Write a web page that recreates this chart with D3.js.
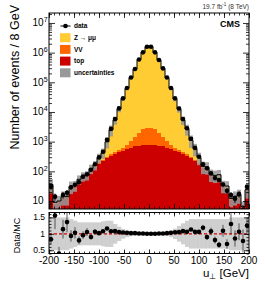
<!DOCTYPE html>
<html>
<head>
<meta charset="utf-8">
<script src="https://cdn.jsdelivr.net/npm/d3@7"></script>
<style>
body { margin: 0; background: #fff; }
svg { display: block; font-family: "Liberation Sans", Arial, Helvetica, sans-serif; }
</style>
</head>
<body>
<svg id="chart" width="266" height="282"></svg>
<script>
// binning of u_perp, 8 GeV bins from -200 to 200
var binLow = -200;
var binHigh = 200;
var binWidth = 8;

// observed events per bin
var dataCounts = [30, 14, 4, 16, 19, 29, 35, 43, 66, 79, 112, 174, 295, 457, 1150, 2690, 5750, 13200, 28840, 64570,
    144500, 281800, 588800, 1023000, 1585000, 1585000, 1023000, 562000, 295000, 144500, 64570, 28840, 13180, 5750, 2820,
    1260, 617, 309, 174, 126, 85, 59, 51, 36, 22, 16, 12, 17, 5, 30];

// simulated backgrounds / signal per bin
var topCounts = [34, 8, 9, 12, 13, 24, 30, 37, 57, 70, 98, 132, 180, 225, 275, 330, 380, 436, 500, 560,
    630, 690, 740, 775, 790, 790, 775, 740, 690, 630, 560, 500, 436, 380, 330,
    275, 225, 180, 132, 98, 76, 55, 47, 30, 20, 11, 11, 12, 6, 22];
var vvCounts = [0.5, 0.2, 0.2, 0.3, 0.3, 0.5, 0.6, 0.8, 1, 1.2, 2, 3, 5, 8, 20, 40, 60, 90, 130, 230,
    420, 760, 1250, 1800, 2200, 2200, 1800, 1250, 760, 420, 230, 130, 90, 60, 40,
    20, 8, 5, 3, 2, 1.2, 1, 0.8, 0.6, 0.5, 0.3, 0.3, 0.3, 0.2, 0.5];
var zmmCounts = [1.5, 0.8, 0.8, 1.7, 0.7, 6.5, 3.4, 16, 11, 3.8, 24, 29, 104, 190, 695, 2120, 4880, 12040, 27100, 61900,
    140650, 274850, 581010, 1010400, 1582000, 1582000, 1020400, 554400, 290650, 140650, 61900, 26840, 12020, 4880, 2290,
    820, 349, 107, 12, 40, 1.8, 17, 29, 2.4, 11.5, 1, 2.7, 3.7, 0.2, 1.5];

// relative uncertainty of the total simulation
var mcUncRel = [0.5, 0.5, 0.5, 0.5, 0.5, 0.45, 0.4, 0.35, 0.35, 0.35, 0.35, 0.35, 0.35, 0.38, 0.4, 0.4, 0.3, 0.22, 0.15, 0.1,
    0.07, 0.05, 0.05, 0.05, 0.05, 0.05, 0.05, 0.05, 0.05, 0.07, 0.1, 0.16, 0.24, 0.32, 0.4,
    0.45, 0.45, 0.45, 0.45, 0.45, 0.45, 0.45, 0.45, 0.45, 0.45, 0.5, 0.5, 0.5, 0.5, 0.5];

var xTicks = [-200, -150, -100, -50, 0, 50, 100, 150, 200];
var yDecades = [1, 2, 3, 4, 5, 6, 7];
var ratioTicks = [0.5, 1, 1.5];
var legendLabels = ["data", "Z \u2192 \u03bc\u03bc", "VV", "top", "uncertainties"];

var COLORS = { top: "#cc0000", vv: "#ff6600", zmm: "#ffcc33", unc: "#999999" };

var MAIN = { left: 49, right: 249, top: 13, bottom: 209 };
var RATIO = { top: 212.5, bottom: 253.5 };

var svg = d3.select("#chart");

var binEdges = d3.range(binLow, binHigh + 1, binWidth);
var bins = binEdges.slice(0, -1).map(function (lo, i) {
    return {
        lo: lo, hi: lo + binWidth, c: lo + binWidth / 2,
        top: topCounts[i], vv: vvCounts[i], zmm: zmmCounts[i],
        data: dataCounts[i], unc: mcUncRel[i],
        mc: topCounts[i] + vvCounts[i] + zmmCounts[i]
    };
});

var x = d3.scaleLinear().domain([binLow, binHigh]).range([MAIN.left, MAIN.right]);
var y = d3.scaleLog().domain([5.37, 2.17e7]).range([MAIN.bottom, MAIN.top]);
var r = d3.scaleLinear().domain([0.4, 1.65]).range([RATIO.bottom, RATIO.top]);
var yMin = y.domain()[0];

var defs = svg.append("defs");
defs.append("clipPath").attr("id", "clipMain").append("rect")
    .attr("x", MAIN.left).attr("y", MAIN.top)
    .attr("width", MAIN.right - MAIN.left).attr("height", MAIN.bottom - MAIN.top);
defs.append("clipPath").attr("id", "clipRatio").append("rect")
    .attr("x", MAIN.left).attr("y", RATIO.top)
    .attr("width", MAIN.right - MAIN.left).attr("height", RATIO.bottom - RATIO.top);

// ---- main panel ----
var gMain = svg.append("g").attr("clip-path", "url(#clipMain)");

var stack = d3.stack().keys(["top", "vv", "zmm"])(bins);
gMain.selectAll("g.layer").data(stack).enter().append("g")
    .attr("class", "layer")
    .attr("fill", function (d) { return COLORS[d.key]; })
    .selectAll("rect").data(function (d) { return d; }).enter().append("rect")
    .attr("shape-rendering", "crispEdges")
    .attr("x", function (d) { return x(d.data.lo); })
    .attr("width", function (d) { return x(d.data.hi) - x(d.data.lo) + 0.3; })
    .attr("y", function (d) { return y(Math.max(d[1], yMin)); })
    .attr("height", function (d) { return Math.max(0, y(Math.max(d[0], yMin)) - y(Math.max(d[1], yMin))); });

gMain.append("g").selectAll("rect").data(bins).enter().append("rect")
    .attr("fill", COLORS.unc).attr("fill-opacity", 0.85)
    .attr("x", function (d) { return x(d.lo); })
    .attr("width", function (d) { return x(d.hi) - x(d.lo); })
    .attr("y", function (d) { return y(d.mc * (1 + d.unc)); })
    .attr("height", function (d) { return y(Math.max(d.mc * (1 - d.unc), yMin)) - y(d.mc * (1 + d.unc)); });

var stepPts = bins.map(function (d) { return [d.lo, d.mc]; });
stepPts.push([binHigh, bins[bins.length - 1].mc]);
gMain.append("path")
    .attr("d", d3.line().curve(d3.curveStepAfter)
        .x(function (p) { return x(p[0]); })
        .y(function (p) { return y(p[1]); })(stepPts))
    .attr("fill", "none").attr("stroke", "#000").attr("stroke-width", 1);

var gData = gMain.append("g");
gData.selectAll("line").data(bins).enter().append("line")
    .attr("x1", function (d) { return x(d.c); }).attr("x2", function (d) { return x(d.c); })
    .attr("y1", function (d) { return y(d.data + Math.sqrt(d.data)); })
    .attr("y2", function (d) { return y(Math.max(d.data - Math.sqrt(d.data), 0.1)); })
    .attr("stroke", "#000").attr("stroke-width", 1);
gData.selectAll("circle").data(bins).enter().append("circle")
    .attr("cx", function (d) { return x(d.c); })
    .attr("cy", function (d) { return y(d.data); })
    .attr("r", 2.3).attr("fill", "#000");

// ---- ratio panel ----
var gRatio = svg.append("g").attr("clip-path", "url(#clipRatio)");
gRatio.append("g").selectAll("rect").data(bins).enter().append("rect")
    .attr("fill", "#c4c4c4").attr("fill-opacity", 0.8)
    .attr("x", function (d) { return x(d.lo); })
    .attr("width", function (d) { return x(d.hi) - x(d.lo) + 0.3; })
    .attr("y", function (d) { return r(1 + d.unc); })
    .attr("height", function (d) { return r(1 - d.unc) - r(1 + d.unc); });

gRatio.append("line")
    .attr("x1", MAIN.left).attr("x2", MAIN.right)
    .attr("y1", r(1)).attr("y2", r(1))
    .attr("stroke", "#cc0000").attr("stroke-width", 1.3).attr("stroke-dasharray", "3,2");

gRatio.append("g").selectAll("line").data(bins).enter().append("line")
    .attr("x1", function (d) { return x(d.c); }).attr("x2", function (d) { return x(d.c); })
    .attr("y1", function (d) { return r((d.data + Math.sqrt(d.data)) / d.mc); })
    .attr("y2", function (d) { return r((d.data - Math.sqrt(d.data)) / d.mc); })
    .attr("stroke", "#333").attr("stroke-width", 0.8);
gRatio.append("g").selectAll("circle").data(bins).enter().append("circle")
    .attr("cx", function (d) { return x(d.c); })
    .attr("cy", function (d) { return r(d.data / d.mc); })
    .attr("r", 2.3).attr("fill", "#000");

// ---- axes (ticks inside, ROOT style) ----
function drawAxis(axis, tx, ty) {
    var g = svg.append("g").attr("transform", "translate(" + tx + "," + ty + ")").call(axis);
    g.select(".domain").remove();
    g.selectAll("text").remove();
    g.selectAll("line").attr("stroke", "#000").attr("stroke-width", 0.8);
    return g;
}

var xMinor = d3.range(binLow, binHigh + 1, 10);
var yMinor = [];
yDecades.concat([0]).forEach(function (k) {
    for (var m = 2; m < 10; m++) {
        var v = m * Math.pow(10, k);
        if (v > y.domain()[0] && v < y.domain()[1]) yMinor.push(v);
    }
});
var yMajor = yDecades.map(function (k) { return Math.pow(10, k); });
var rMinor = d3.range(0.4, 1.651, 0.1);

// main panel
drawAxis(d3.axisBottom(x).tickValues(xTicks).tickSize(-5).tickFormat(""), 0, MAIN.bottom);
drawAxis(d3.axisBottom(x).tickValues(xMinor).tickSize(-2.5).tickFormat(""), 0, MAIN.bottom);
drawAxis(d3.axisTop(x).tickValues(xTicks).tickSize(-5).tickFormat(""), 0, MAIN.top);
drawAxis(d3.axisTop(x).tickValues(xMinor).tickSize(-2.5).tickFormat(""), 0, MAIN.top);
drawAxis(d3.axisLeft(y).tickValues(yMajor).tickSize(-6).tickFormat(""), MAIN.left, 0);
drawAxis(d3.axisLeft(y).tickValues(yMinor).tickSize(-3).tickFormat(""), MAIN.left, 0);
drawAxis(d3.axisRight(y).tickValues(yMajor).tickSize(-6).tickFormat(""), MAIN.right, 0);
drawAxis(d3.axisRight(y).tickValues(yMinor).tickSize(-3).tickFormat(""), MAIN.right, 0);

// ratio panel
drawAxis(d3.axisBottom(x).tickValues(xTicks).tickSize(-4).tickFormat(""), 0, RATIO.bottom);
drawAxis(d3.axisBottom(x).tickValues(xMinor).tickSize(-2).tickFormat(""), 0, RATIO.bottom);
drawAxis(d3.axisTop(x).tickValues(xTicks).tickSize(-4).tickFormat(""), 0, RATIO.top);
drawAxis(d3.axisTop(x).tickValues(xMinor).tickSize(-2).tickFormat(""), 0, RATIO.top);
drawAxis(d3.axisLeft(r).tickValues(ratioTicks).tickSize(-5).tickFormat(""), MAIN.left, 0);
drawAxis(d3.axisLeft(r).tickValues(rMinor).tickSize(-2.5).tickFormat(""), MAIN.left, 0);
drawAxis(d3.axisRight(r).tickValues(ratioTicks).tickSize(-5).tickFormat(""), MAIN.right, 0);
drawAxis(d3.axisRight(r).tickValues(rMinor).tickSize(-2.5).tickFormat(""), MAIN.right, 0);

// frames
svg.append("rect").attr("x", MAIN.left).attr("y", MAIN.top)
    .attr("width", MAIN.right - MAIN.left).attr("height", MAIN.bottom - MAIN.top)
    .attr("fill", "none").attr("stroke", "#000").attr("stroke-width", 1);
svg.append("rect").attr("x", MAIN.left).attr("y", RATIO.top)
    .attr("width", MAIN.right - MAIN.left).attr("height", RATIO.bottom - RATIO.top)
    .attr("fill", "none").attr("stroke", "#000").attr("stroke-width", 1);

// ---- labels ----
var yLab = svg.append("g").attr("font-size", "10px").attr("fill", "#000");
yDecades.forEach(function (k) {
    var ty = y(Math.pow(10, k));
    yLab.append("text").attr("x", 43.5).attr("y", ty + 3.5).attr("text-anchor", "end").text("10");
    if (k > 1) {
        yLab.append("text").attr("x", 43.8).attr("y", ty - 0.5).attr("font-size", "7px").text(k);
    }
});

svg.append("g").selectAll("text").data(ratioTicks).enter().append("text")
    .attr("x", 45).attr("y", function (d) { return r(d) + 3; })
    .attr("text-anchor", "end").attr("font-size", "8.5px")
    .text(function (d) { return d; });

svg.append("g").selectAll("text").data(xTicks).enter().append("text")
    .attr("x", function (d) { return x(d); }).attr("y", 264)
    .attr("text-anchor", "middle").attr("font-size", "10px")
    .text(function (d) { return d; });

svg.append("text")
    .attr("transform", "translate(18.5,5) rotate(-90)")
    .attr("text-anchor", "end").attr("font-size", "12.5px")
    .text("Number of events / 8 GeV");

svg.append("text")
    .attr("transform", "translate(19.5," + r(0.95) + ") rotate(-90)")
    .attr("text-anchor", "middle").attr("font-size", "9px")
    .text("Data/MC");

var xTitle = svg.append("text").attr("x", 249).attr("y", 277)
    .attr("text-anchor", "end").attr("font-size", "11.5px");
xTitle.append("tspan").text("u");
xTitle.append("tspan").attr("font-size", "8px").attr("dy", 2).text("\u22a5");
xTitle.append("tspan").attr("dy", -2).text(" [GeV]");

var lumi = svg.append("text").attr("x", 249).attr("y", 8.5)
    .attr("text-anchor", "end").attr("font-size", "6.5px").attr("fill", "#333");
lumi.append("tspan").text("19.7 fb");
lumi.append("tspan").attr("font-size", "4.5px").attr("dy", -2.5).text("-1");
lumi.append("tspan").attr("dy", 2.5).text(" (8 TeV)");

svg.append("text").attr("x", 240).attr("y", 26.5)
    .attr("text-anchor", "end").attr("font-size", "9px").attr("font-weight", "bold")
    .text("CMS");

// ---- legend ----
var legendFill = [null, COLORS.zmm, COLORS.vv, COLORS.top, COLORS.unc];
var gLeg = svg.append("g");
legendLabels.forEach(function (lab, i) {
    var ly = 26 + i * 11.7;
    if (i === 0) {
        gLeg.append("line").attr("x1", 60.5).attr("x2", 70.5).attr("y1", ly).attr("y2", ly)
            .attr("stroke", "#000").attr("stroke-width", 1);
        gLeg.append("circle").attr("cx", 65.5).attr("cy", ly).attr("r", 2.3).attr("fill", "#000");
    } else {
        gLeg.append("rect").attr("x", 60).attr("y", ly - 4.5).attr("width", 10.5).attr("height", 9)
            .attr("fill", legendFill[i]);
    }
    gLeg.append("text").attr("x", 74).attr("y", ly + 2.3)
        .attr("font-size", "6.5px").attr("font-weight", "bold")
        .text(lab);
});
</script>
</body>
</html>
